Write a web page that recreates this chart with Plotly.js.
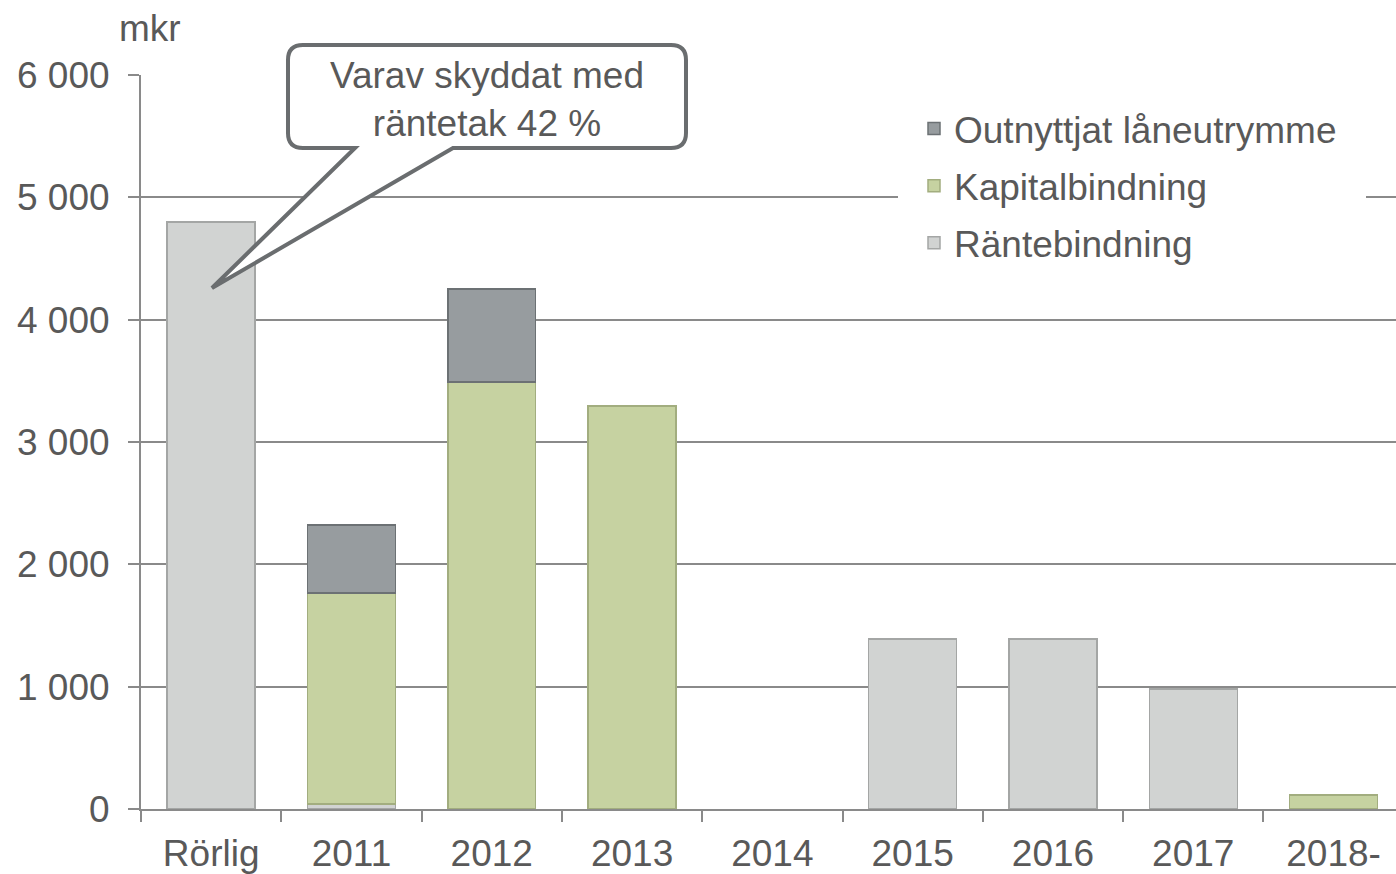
<!DOCTYPE html>
<html><head><meta charset="utf-8">
<script src="https://cdn.plot.ly/plotly-3.0.1.min.js"></script>
<style>html,body{margin:0;padding:0;background:#fff;}</style>
</head><body><div id="chart" style="width:1396px;height:874px;"></div>
<script>
const categories = ["Rörlig","2011","2012","2013","2014","2015","2016","2017","2018-"];
const rantebindning = [4800, 40, null, null, null, 1390, 1390, 980, null];
const kapitalbindning = [null, 1726, 3490, 3295, null, null, null, null, 115];
const outnyttjat = [null, 554, 760, null, null, null, null, null, null];
const yTickVals = [0, 1000, 2000, 3000, 4000, 5000, 6000];
const yTickText = ["0", "1 000", "2 000", "3 000", "4 000", "5 000", "6 000"];
const seriesNames = ["Räntebindning", "Kapitalbindning", "Outnyttjat låneutrymme"];
const calloutText = "Varav skyddat med<br>räntetak 42 %";
const unitLabel = "mkr";

const FONT = "'Liberation Sans', Arial, sans-serif";
const FS = 37;
const TXT = "#595959";
const GRID = "#8a8a8a";
// plot area in pixels
const PL = 141, PR = 1396, PT = 75, PB = 809;
const px = x => (x - PL) / (PR - PL);
const py = y => (PB - y) / (PB - PT);
const P = (x, y) => px(x).toFixed(5) + "," + py(y).toFixed(5);

const traces = [
  {name: seriesNames[0], x: categories, y: rantebindning, type: "bar", legendgroup: "a", legendrank: 3,
   marker: {color: "#d1d3d2", line: {color: "#a4a6a5", width: 1.5}}},
  {name: seriesNames[1], x: categories, y: kapitalbindning, type: "bar", legendgroup: "b", legendrank: 2,
   marker: {color: "#c6d2a1", line: {color: "#a2ad7f", width: 1.5}}},
  {name: seriesNames[2], x: categories, y: outnyttjat, type: "bar", legendgroup: "c", legendrank: 1,
   marker: {color: "#979c9f", line: {color: "#6c7174", width: 1.5}}}
];

// callout path (pixel geometry -> paper)
const L = 288, R = 686, T = 45, B = 148, r = 15;
const calloutPath = "M" + P(L + r, T) + " L" + P(R - r, T) + " Q" + P(R, T) + " " + P(R, T + r) +
  " L" + P(R, B - r) + " Q" + P(R, B) + " " + P(R - r, B) +
  " L" + P(453, B) + " L" + P(212, 288) + " L" + P(355, B) +
  " L" + P(L + r, B) + " Q" + P(L, B) + " " + P(L, B - r) +
  " L" + P(L, T + r) + " Q" + P(L, T) + " " + P(L + r, T) + " Z";

const layout = {
  width: 1396, height: 874,
  margin: {l: PL, r: 1396 - PR, t: PT, b: 874 - PB, pad: 0},
  paper_bgcolor: "#fff", plot_bgcolor: "#fff",
  font: {family: FONT, size: FS, color: TXT},
  barmode: "stack",
  bargap: 0.373,
  showlegend: true,
  legend: {x: px(914), y: py(98), xanchor: "left", yanchor: "top",
           bgcolor: "rgba(0,0,0,0)", traceorder: "grouped", tracegroupgap: 6,
           font: {family: FONT, size: FS, color: TXT}},
  xaxis: {type: "category", range: [-0.5, 8.445], showline: true, linecolor: GRID, linewidth: 2,
          ticks: "outside", tickson: "boundaries", ticklen: 11, tickwidth: 2, tickcolor: GRID,
          showgrid: false, zeroline: false, ticklabelstandoff: 11,
          tickfont: {family: FONT, size: FS, color: TXT}},
  yaxis: {range: [0, 6000], tickvals: yTickVals, ticktext: yTickText, showgrid: true,
          gridcolor: GRID, gridwidth: 2, showline: true, linecolor: GRID, linewidth: 2,
          ticks: "outside", ticklen: 11, tickwidth: 2, tickcolor: GRID, zeroline: false,
          ticklabelstandoff: 11, tickfont: {family: FONT, size: FS, color: TXT}},
  shapes: [
    {type: "rect", xref: "paper", yref: "paper", x0: px(898), x1: px(1366), y0: py(275), y1: py(100),
     fillcolor: "#fff", line: {width: 0}, layer: "above"},
    {type: "path", xref: "paper", yref: "paper", path: calloutPath, fillcolor: "#fff",
     line: {color: "#6a6d6f", width: 4}, layer: "above"}
  ],
  annotations: [
    {xref: "paper", yref: "paper", x: px(487), y: py(99), text: calloutText, showarrow: false,
     xanchor: "center", yanchor: "middle", font: {family: FONT, size: FS, color: TXT}},
    {xref: "paper", yref: "paper", x: px(150), y: py(28), text: unitLabel, showarrow: false,
     xanchor: "center", yanchor: "middle", font: {family: FONT, size: FS, color: TXT}}
  ]
};
Plotly.newPlot("chart", traces, layout, {staticPlot: true, displayModeBar: false});
</script></body></html>
